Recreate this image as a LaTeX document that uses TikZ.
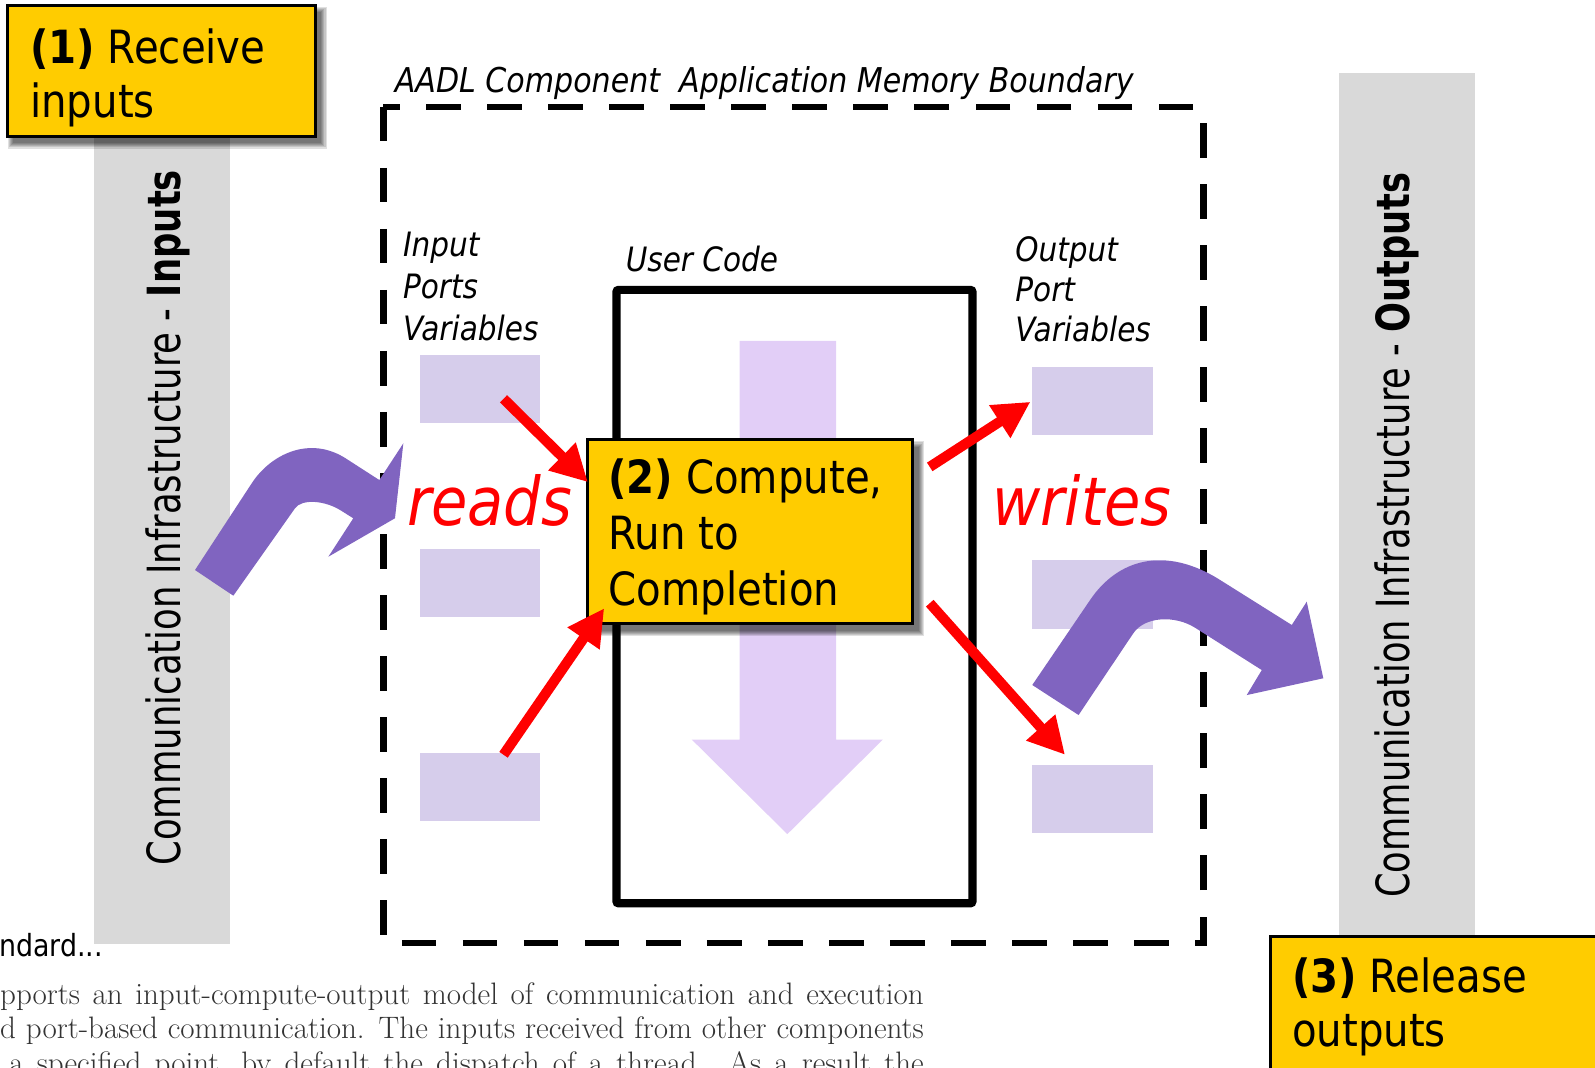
\documentclass[tikz,border=0pt]{standalone}
\usepackage{fontspec}
\usepackage{graphicx}
\usetikzlibrary{arrows.meta}

% Sans face for the diagram labels, slightly narrowed
\newfontfamily\tah{DejaVu Sans}[FakeStretch=0.88]

\definecolor{boxyellow}{RGB}{255,204,0}
\definecolor{infragray}{RGB}{217,217,217}
\definecolor{portfill}{RGB}{214,205,235}
\definecolor{flowfill}{RGB}{226,206,247}
\definecolor{commarrow}{RGB}{128,100,192}

\newcommand\boxshadow[4]{%
  \foreach \r in {0,1,2,3,4,5}{%
    \fill[black,opacity=0.12] ({#1+6-\r},{#2+7-\r}) rectangle ({#3+6+\r},{#4+7+\r});}}

\tikzset{
  stepbox/.style={fill=boxyellow, draw=black, line width=3pt, inner sep=0pt, outer sep=0pt, anchor=north west},
  portbox/.style={fill=portfill, draw=none, inner sep=0pt, outer sep=0pt, anchor=north west,
                  minimum width=118pt, minimum height=67pt},
  steptext/.style={anchor=base west, inner sep=0pt, font=\tah\fontsize{45}{54}\selectfont},
  lbl/.style={anchor=base west, inner sep=0pt, font=\tah\itshape\fontsize{33}{40}\selectfont},
  verb/.style={anchor=base west, inner sep=0pt, text=red, font=\tah\itshape\fontsize{66}{78}\selectfont},
  infra/.style={rotate=90, anchor=base, inner sep=0pt, font=\tah\fontsize{45}{54}\selectfont},
  access/.style={draw=red, line width=10pt, -{Triangle[length=36pt,width=36pt]}},
  bodytext/.style={anchor=base west, inner sep=0pt, text=black!80, font=\rmfamily\fontsize{30.5}{36}\selectfont},
}

\begin{document}
\begin{tikzpicture}[x=1pt,y=-1pt]
\useasboundingbox (0,0) rectangle (1568,1049);
\clip (0,0) rectangle (1568,1049);

% communication infrastructure bars
\fill[infragray] (92,130) rectangle (226,928);
\fill[infragray] (1316,72) rectangle (1450,925);
\node[infra] (infraIn) at (177,509)
  {\scalebox{0.88}[1]{Communication Infrastructure - \textbf{Inputs}}};
\node[infra] (infraOut) at (1386,526)
  {\scalebox{0.875}[1]{Communication Infrastructure - \textbf{Outputs}}};

% page text around the figure
\node[anchor=base west, inner sep=0pt, font=\tah\fontsize{30}{36}\selectfont] (std) at (-1,940) {ndard...};
\node[bodytext] (para1) at (0,987)
  {\makebox[908pt][s]{pports an input-compute-output model of communication and execution}};
\node[bodytext] (para2) at (0,1021)
  {\makebox[908pt][s]{d port-based communication. The inputs received from other components}};
\node[bodytext] (para3) at (9,1055)
  {\makebox[899pt][s]{a specified point, by default the dispatch of a thread. As a result the}};

% application memory boundary
\draw[line width=6.5pt, dash pattern=on 34pt off 26pt] (377,105) rectangle (1183,927);
\node[lbl, font=\tah\itshape\fontsize{33.6}{40}\selectfont] (title) at (388,91)
  {AADL Component\ \ Application Memory Boundary};

% user code
\draw[line width=8pt, rounded corners=2pt] (606,285) rectangle (956,888);
\node[lbl] (usercode) at (615,267) {User Code};
\fill[flowfill] (727,335) -- (822,335) -- (822,727) -- (868,727) -- (774,820)
  -- (680,727) -- (727,727) -- cycle;

% port variables
\node[lbl] (inl1) at (396,252.4) {Input};
\node[lbl] (inl2) at (396,293) {Ports};
\node[lbl] (inl3) at (396,334.3) {Variables};
\node[lbl] (outl1) at (998,257.3) {Output};
\node[lbl] (outl2) at (998,296.6) {Port};
\node[lbl] (outl3) at (998,336) {Variables};

\node[portbox] (inA) at (413,349) {};
\node[portbox] (inB) at (413,540) {};
\node[portbox] (inC) at (413,740) {};
\node[portbox] (outA) at (1015,361) {};
\node[portbox] (outB) at (1015,551) {};
\node[portbox] (outC) at (1015,752) {};

\node[verb] (reads) at (400,517) {reads};
\node[verb] (writes) at (975,517) {writes};

% incoming and outgoing communication
\fill[commarrow] (191.7,560.4) -- (247.4,475.2) .. controls (266.5,445.9) and (305,428.1) .. (340,450.7)
  -- (372.9,471.9) -- (396.5,435.8) -- (388.3,509.5) -- (322.8,547.3) -- (347.3,509.5)
  -- (335,501.8) .. controls (320,492.2) and (296.9,489.9) .. (290,499.7) -- (229.4,585.6) -- cycle;
\fill[commarrow] (1014.8,673.4) -- (1071.6,589.9) .. controls (1098.5,550) and (1145,535.6) .. (1200,570.5)
  -- (1269.9,614.4) -- (1284.6,591.5) -- (1300.9,666.8) -- (1225.6,683.3) -- (1240.4,658.7)
  -- (1175,617.2) .. controls (1155,604.5) and (1125.2,606) .. (1114.1,622.6) -- (1060.3,702.9) -- cycle;

% step boxes
\boxshadow{7}{5}{310}{134}
\node[stepbox, minimum width=303pt, minimum height=129pt] (recv) at (7,5) {};
\node[steptext] (recvA) at (29.5,62) {\textbf{(1)} Receive};
\node[steptext] (recvB) at (29.5,116) {inputs};

\boxshadow{578}{432}{897}{613}
\node[stepbox, minimum width=319pt, minimum height=181pt] (compute) at (578,432) {};
\node[steptext] (compA) at (598,485) {\textbf{(2)} Compute,};
\node[steptext] (compB) at (598,540.5) {Run to};
\node[steptext] (compC) at (598,595) {Completion};

\boxshadow{1249}{921}{1600}{1080}
\node[stepbox, minimum width=351pt, minimum height=159pt] (release) at (1249,921) {};
\node[steptext] (relA) at (1270,976) {\textbf{(3)} Release};
\node[steptext] (relB) at (1270,1029) {outputs};

% reads and writes
\coordinate (rdA) at (495,392);
\coordinate (rdAtip) at (578,474);
\coordinate (rdC) at (495,742);
\coordinate (rdCtip) at (594,598);
\coordinate (wrA) at (914,459);
\coordinate (wrAtip) at (1013,395);
\coordinate (wrC) at (914,593);
\coordinate (wrCtip) at (1047,742);
\draw[access] (rdA) -- (rdAtip);
\draw[access] (rdC) -- (rdCtip);
\draw[access] (wrA) -- (wrAtip);
\draw[access] (wrC) -- (wrCtip);
\end{tikzpicture}
\end{document}
